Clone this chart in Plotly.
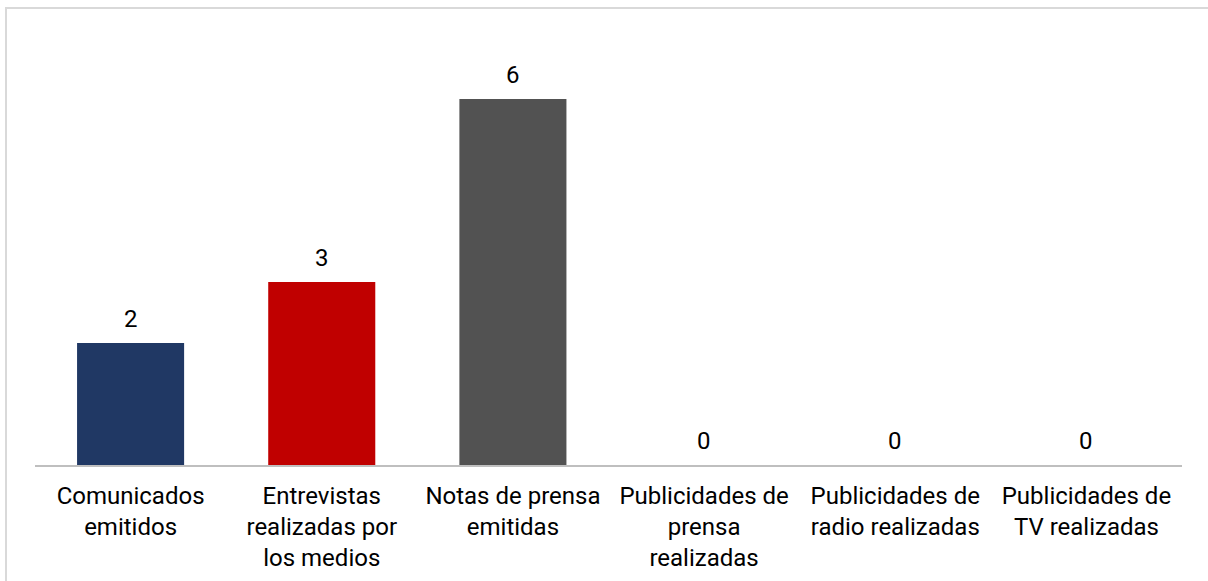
import plotly.graph_objects as go

categories = [
    "Comunicados<br>emitidos",
    "Entrevistas<br>realizadas por<br>los medios",
    "Notas de prensa<br>emitidas",
    "Publicidades de<br>prensa<br>realizadas",
    "Publicidades de<br>radio realizadas",
    "Publicidades de<br>TV realizadas",
]
values = [2, 3, 6, 0, 0, 0]
colors = ["#203864", "#C00000", "#525252", "#4472C4", "#4472C4", "#4472C4"]
value_labels = [str(v) for v in values]

W, H = 1208, 581
L, R, T, B = 35, 26, 38, 116
FONT = "Roboto"
FS = 24

fig = go.Figure(go.Bar(
    x=list(range(len(categories))),
    y=values,
    marker=dict(color=colors, line=dict(width=0)),
    width=0.56,
    hoverinfo="skip",
))

for i, (v, t) in enumerate(zip(values, value_labels)):
    fig.add_annotation(x=i, y=v, text=t, xref="x", yref="y",
                       showarrow=False, yanchor="bottom", yshift=8,
                       font=dict(size=FS, family=FONT, color="#000000"))

fig.update_layout(
    width=W, height=H,
    margin=dict(l=L, r=R, t=T, b=B, autoexpand=False),
    paper_bgcolor="white", plot_bgcolor="white",
    font=dict(family=FONT, size=FS, color="#000000"),
    showlegend=False,
    xaxis=dict(
        tickmode="array", tickvals=list(range(len(categories))), ticktext=categories,
        range=[-0.5, 5.5], showgrid=False, zeroline=False, automargin=False,
        showline=True, linecolor="#BFBFBF", linewidth=2,
        ticks="outside", ticklen=8, tickcolor="rgba(0,0,0,0)",
        tickfont=dict(size=FS, family=FONT, color="#000000"),
        tickangle=0,
    ),
    yaxis=dict(range=[0, 7], visible=False, showgrid=False, zeroline=False, automargin=False),
)

pw = W - L - R
ph = H - T - B
def px_x(p):
    return (p - L) / pw
def px_y(p):
    return (H - B - p) / ph

fig.add_shape(type="rect", xref="paper", yref="paper",
              x0=px_x(6), x1=px_x(1230), y0=px_y(600), y1=px_y(8),
              line=dict(color="#D9D9D9", width=2), fillcolor="rgba(0,0,0,0)", layer="below")

fig.write_html("out.html", config={"displayModeBar": False},
               post_script="document.body.style.margin='0';document.body.style.overflow='hidden';")
